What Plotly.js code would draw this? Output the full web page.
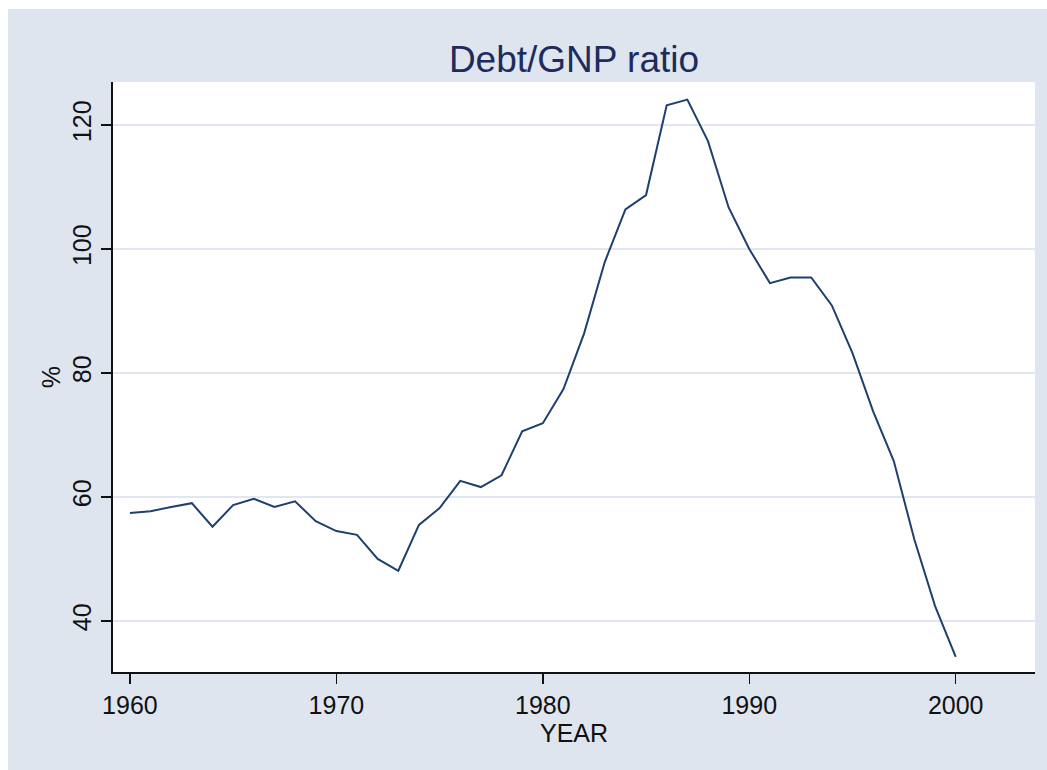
<!DOCTYPE html>
<html>
<head>
<meta charset="utf-8">
<script src="https://cdn.plot.ly/plotly-3.0.1.min.js"></script>
<style>
  html, body { margin: 0; padding: 0; background: #ffffff; width: 1047px; height: 770px; overflow: hidden; }
  #chart { position: absolute; left: 8px; top: 9px; width: 1039px; height: 761px; }
</style>
</head>
<body>
<div id="chart"></div>
<script>
const years = [1960,1961,1962,1963,1964,1965,1966,1967,1968,1969,
               1970,1971,1972,1973,1974,1975,1976,1977,1978,1979,
               1980,1981,1982,1983,1984,1985,1986,1987,1988,1989,
               1990,1991,1992,1993,1994,1995,1996,1997,1998,1999,2000];
const debtGnp = [57.4,57.7,58.4,59.0,55.2,58.7,59.7,58.4,59.3,56.1,
                 54.5,53.9,50.0,48.1,55.5,58.2,62.6,61.6,63.5,70.6,
                 71.9,77.4,86.4,97.9,106.4,108.7,123.2,124.1,117.4,106.7,
                 100.0,94.5,95.4,95.4,90.9,83.2,73.8,65.8,53.1,42.4,34.2];
const xTicks = [1960,1970,1980,1990,2000];
const yTicks = [40,60,80,100,120];

const font = "Liberation Sans, Arial, sans-serif";

Plotly.newPlot('chart', [{
  x: years,
  y: debtGnp,
  type: 'scatter',
  mode: 'lines',
  line: {color: '#1f3f6e', width: 2},
  hoverinfo: 'skip'
}], {
  width: 1039,
  height: 761,
  paper_bgcolor: '#dfe5ef',
  plot_bgcolor: '#ffffff',
  margin: {l: 105, r: 12, t: 73, b: 98, pad: 0},
  showlegend: false,
  font: {family: font, color: '#111111', size: 25},
  title: {
    text: 'Debt/GNP ratio',
    font: {family: font, size: 37, color: '#1e2c5c'},
    x: 0.5, xref: 'paper', xanchor: 'center',
    y: 1, yref: 'paper', yanchor: 'bottom', pad: {b: 10}
  },
  xaxis: {
    range: [1959.18, 2003.84],
    tickmode: 'array',
    tickvals: xTicks,
    ticktext: xTicks.map(String),
    ticks: 'outside', ticklen: 10, tickwidth: 1.5, tickcolor: '#111111',
    showline: true, linecolor: '#111111', linewidth: 2,
    showgrid: false, zeroline: false,
    tickfont: {family: font, size: 25, color: '#111111'},
    title: {text: 'YEAR', font: {family: font, size: 25, color: '#111111'}, standoff: 0},
    automargin: false
  },
  yaxis: {
    range: [31.77, 126.94],
    tickmode: 'array',
    tickvals: yTicks,
    ticktext: yTicks.map(String),
    tickangle: -90,
    ticks: 'outside', ticklen: 10, tickwidth: 1.5, tickcolor: '#111111',
    showline: true, linecolor: '#111111', linewidth: 2,
    showgrid: true, gridcolor: '#e1e7f0', gridwidth: 1.5,
    zeroline: false,
    tickfont: {family: font, size: 25, color: '#111111'},
    title: {text: '%', font: {family: font, size: 25, color: '#111111'}, standoff: 0},
    automargin: false
  }
}, {displayModeBar: false, staticPlot: true});
</script>
</body>
</html>
